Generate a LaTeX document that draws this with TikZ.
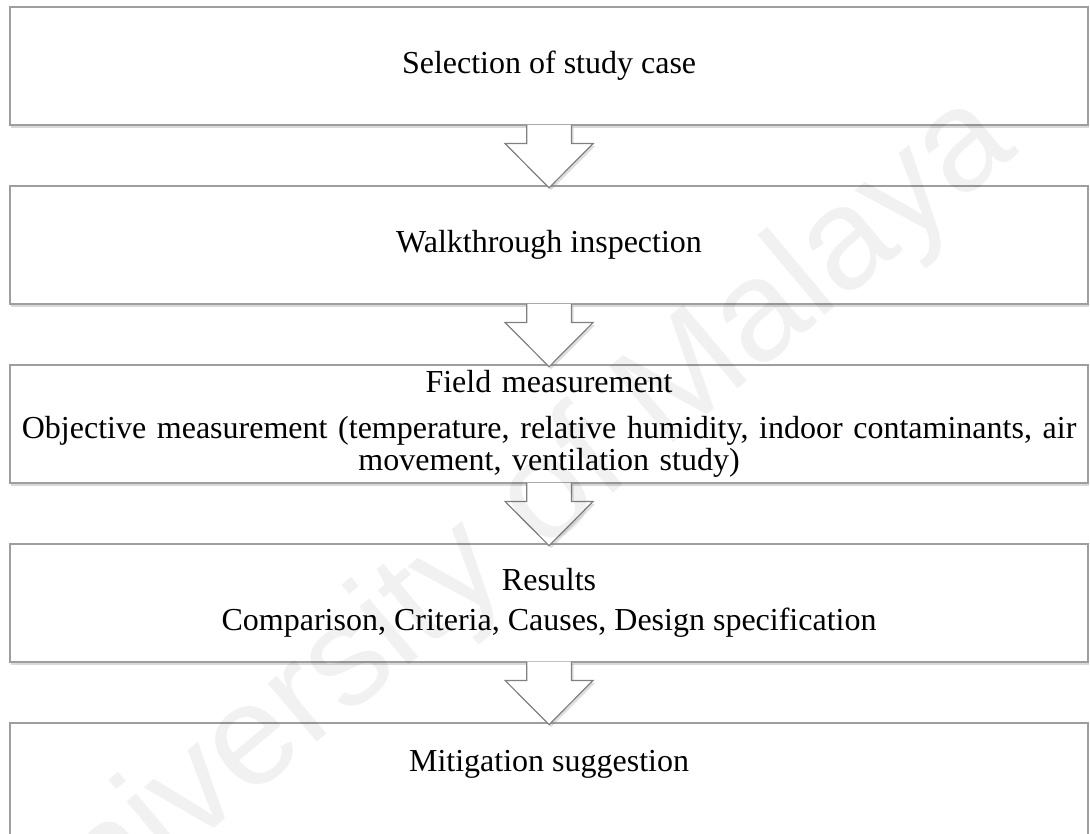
\documentclass[tikz,border=0pt]{standalone}
\usepackage{fontspec}
\setmainfont{Liberation Serif}
\newfontfamily\markfont{Liberation Sans}
\usetikzlibrary{positioning,shadows,calc}

\tikzstyle{stage} = [rectangle, minimum width=404.25pt, minimum height=44.25pt, text centered, draw=black!38, line width=0.75pt, fill=white, font=\fontsize{12pt}{13.8pt}\selectfont, drop shadow={shadow xshift=0.3pt, shadow yshift=-1.2pt, opacity=0.3}]
\tikzstyle{blockarrow} = [draw=black!50, line width=0.45pt, fill=white, line join=miter, drop shadow={shadow xshift=0.8pt, shadow yshift=-0.9pt, opacity=0.25}]
\tikzstyle{watermark} = [font=\markfont\fontsize{54pt}{54pt}\selectfont, rotate=40, opacity=0.055]
\def\gap{22.1pt}

% block arrow from the bottom of one stage to the top of the next
\newcommand{\flowarrow}[2]{%
  \draw[blockarrow] ($(#1.south)+(-8.4pt,0.4pt)$) -- ($(#2.north)+(-8.4pt,15.5pt)$)
    -- ($(#2.north)+(-16.5pt,15.5pt)$) -- ($(#2.north)+(0pt,-1.1pt)$)
    -- ($(#2.north)+(16.5pt,15.5pt)$) -- ($(#2.north)+(8.4pt,15.5pt)$)
    -- ($(#1.south)+(8.4pt,0.4pt)$);}

\begin{document}
\begin{tikzpicture}
\useasboundingbox (0,0) rectangle (408.75pt,-312.4pt);

\node (select) [stage] at (205.9pt,-24.75pt) {Selection of study case};
\node (walk) [stage, below=\gap of select] {Walkthrough inspection};
\node (field) [stage, below=\gap of walk, align=center, text width=397pt, inner ysep=1pt,
  font=\fontsize{12pt}{10.2pt}\selectfont] {Field measurement\\[7.3pt]
  Objective measurement (temperature, relative humidity, indoor contaminants, air\\
  movement, ventilation study)};
\node (result) [stage, below=\gap of field, align=center] {Results\\[1.5pt]Comparison, Criteria, Causes, Design specification};
\node (mitig) [stage, below=\gap of result, inner ysep=9.45pt, text height=9pt, text depth=32pt] {Mitigation suggestion};

\flowarrow{select}{walk}
\flowarrow{walk}{field}
\flowarrow{field}{result}
\flowarrow{result}{mitig}

\node (mark) [watermark] at (187.5pt,-202.5pt) {University of Malaya};
\end{tikzpicture}
\end{document}
